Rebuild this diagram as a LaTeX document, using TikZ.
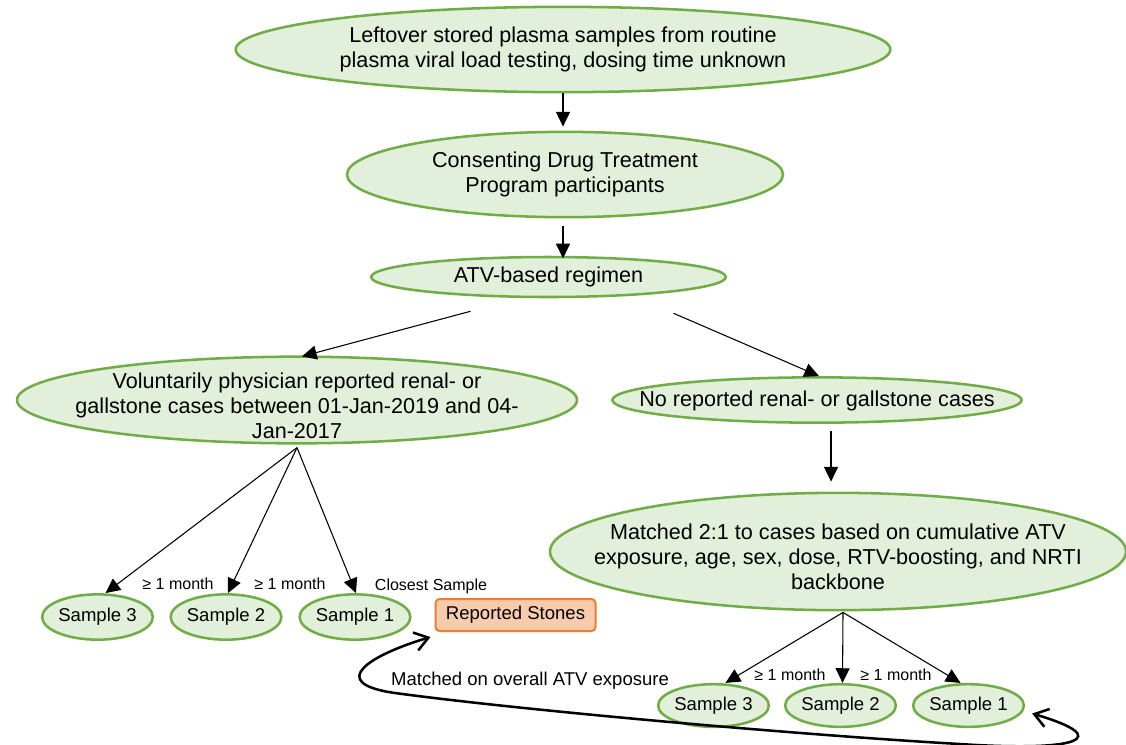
\documentclass[tikz,border=0pt]{standalone}
\usepackage{fontspec}
\setmainfont{Liberation Sans}
\usetikzlibrary{shapes.geometric,arrows.meta}
\definecolor{gfill}{HTML}{E2EFDA}
\definecolor{gdraw}{HTML}{70AD47}
\definecolor{ofill}{HTML}{F8CBAD}
\definecolor{odraw}{HTML}{ED7D31}
\begin{document}
\begin{tikzpicture}[x=0.75pt,y=-0.75pt,
  oval/.style={ellipse,draw=gdraw,fill=gfill,line width=1.9pt,inner sep=0pt,align=center,
    font=\fontsize{16.2}{18.3}\selectfont},
  ovaltext/.style={align=center,inner sep=0pt,font=\fontsize{16.2}{18.8}\selectfont},
  samp/.style={oval,minimum width=82pt,minimum height=34pt,font=\fontsize{13.9}{16}\selectfont},
  arr/.style={-{Triangle[length=11pt,width=10.5pt]},line width=0.8pt},
  lbl/.style={font=\fontsize{12}{13}\selectfont,inner sep=0pt,anchor=base},
  curvy/.style={{Straight Barb[length=10pt,width=14pt,line width=1.9pt]}-{Straight Barb[length=10pt,width=14pt,line width=1.9pt]},line width=1.9pt}]
\useasboundingbox (0,0) rectangle (1126,744);
\node[oval,minimum width=491pt,minimum height=64pt] (n1) at (563,49.5)
  {Leftover stored plasma samples from routine\\plasma viral load testing, dosing time unknown};
\node[oval,minimum width=327pt,minimum height=64pt] (n2) at (565,174.5)
  {Consenting Drug Treatment\\Program participants};
\node[oval,minimum width=266pt,minimum height=30pt] (n3) at (548.5,277) {ATV-based regimen};
\node[oval,minimum width=420pt,minimum height=65pt,
  label={[ovaltext,yshift=-4pt]center:{Voluntarily physician reported renal- or\\gallstone cases between 01-Jan-2019 and 04-\\Jan-2017}}] (n4) at (297,400) {};
\node[oval,minimum width=307pt,minimum height=34pt,
  label={[ovaltext,yshift=-1pt]center:{No reported renal- or gallstone cases}}] (n5) at (817,400) {};
\node[oval,minimum width=432pt,minimum height=88pt,
  label={[ovaltext,yshift=-4pt]center:{Matched 2:1 to cases based on cumulative ATV\\exposure, age, sex, dose, RTV-boosting, and NRTI\\backbone}}] (n6) at (838,551.5) {};
\node[samp] (ls3) at (97.5,617) {Sample 3};
\node[samp] (ls2) at (226,617) {Sample 2};
\node[samp] (ls1) at (355,617) {Sample 1};
\node[draw=odraw,fill=ofill,line width=1.5pt,rounded corners=3pt,minimum width=120pt,minimum height=24pt,
  inner sep=0pt,font=\fontsize{13.9}{16}\selectfont] (rs) at (515.5,615) {Reported Stones};
\node[samp,minimum height=32pt] (rs3) at (713.5,705.5) {Sample 3};
\node[samp,minimum height=32pt] (rs2) at (840.5,705.5) {Sample 2};
\node[samp,minimum height=32pt] (rs1) at (968.5,705.5) {Sample 1};
% labels
\node[lbl] (l1) at (178,589) {≥ 1 month};
\node[lbl] (l2) at (290,589) {≥ 1 month};
\node[lbl] (l3) at (431,590) {Closest Sample};
\node[lbl] (l4) at (790,680) {≥ 1 month};
\node[lbl] (l5) at (896,680) {≥ 1 month};
\node[font=\fontsize{13.9}{16}\selectfont,inner sep=0pt,anchor=base] (l6) at (530,685) {Matched on overall ATV exposure};
% connectors
\coordinate (ls) at ([shift={(0,3)}]n4.south);
\coordinate (rsplit) at ([shift={(5,1)}]n6.south);
\coordinate (c12) at (n1.south);
\coordinate (c23) at (n1.south |- n2.south);
\coordinate (c56) at ([shift={(14,0)}]n5.south);
\draw[arr,shorten >=3pt] (c12) -- (c12 |- n2.north);
\draw[arr,shorten <=6pt,shorten >=-2pt] (c23) -- (c23 |- n3.north);
\draw[arr] ([shift={(-78,13)}]n3.south) -- ([shift={(5,1)}]n4.north);
\draw[arr] ([shift={(125,15)}]n3.south) -- ([shift={(2,0)}]n5.north);
\draw[arr,shorten <=5.5pt,shorten >=7.5pt] (c56) -- (c56 |- n6.north);
\draw[arr] (ls) -- ([shift={(8,0)}]ls3.north);
\draw[arr] (ls) -- ([shift={(2,0)}]ls2.north);
\draw[arr] (ls) -- ([shift={(1,0)}]ls1.north);
\draw[arr] (rsplit) -- ([shift={(12,0)}]rs3.north);
\draw[arr] (rsplit) -- ([shift={(2,0)}]rs2.north);
\draw[arr] (rsplit) -- ([shift={(-8,0)}]rs1.north);
\begin{scope}
\clip (0,0) rectangle (1126,744);
\draw[curvy] ([shift={(-4,5)}]rs.south west)
  .. controls (370,655) and (325,683) .. (395,693)
  .. controls (520,710) and (800,735) .. (960,744)
  .. controls (1080,752) and (1115,738) .. ([shift={(7,8)}]rs1.east);
\end{scope}
\end{tikzpicture}
\end{document}
